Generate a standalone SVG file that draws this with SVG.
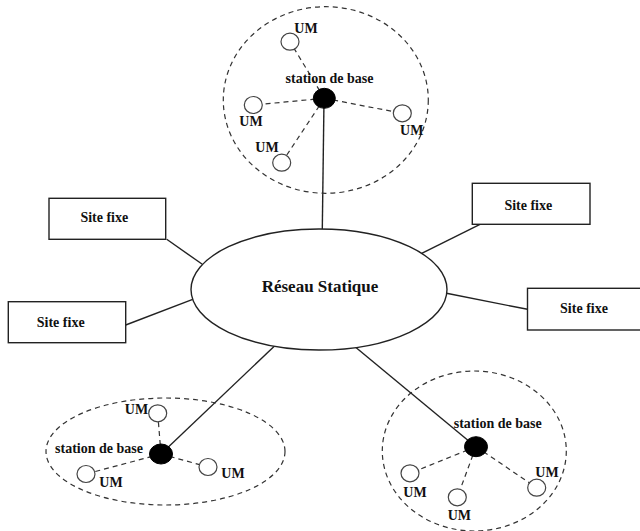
<svg xmlns="http://www.w3.org/2000/svg" width="640" height="531" viewBox="0 0 640 531">
<style>
text{font-family:"Liberation Serif","Times New Roman",serif;font-weight:bold;fill:#111;text-anchor:middle}
.lbl{font-size:14px}
.big{font-size:17px}
.cell{fill:none;stroke:#333;stroke-width:1.2;stroke-dasharray:5,4}
.dash{fill:none;stroke:#333;stroke-width:1.2;stroke-dasharray:5,4}
.link{fill:none;stroke:#222;stroke-width:1.4}
.box{fill:#fff;stroke:#222;stroke-width:1.4}
.um{fill:#fff;stroke:#444;stroke-width:1.2}
.bs{fill:#000;stroke:#000}
</style>
<rect width="640" height="531" fill="#fff"/>
<g id="connectors">
<line class="link" x1="324" y1="100" x2="322.3" y2="229"/>
<line class="link" x1="166.7" y1="239.3" x2="202.3" y2="264.3"/>
<line class="link" x1="125.7" y1="325" x2="192.7" y2="299.3"/>
<line class="link" x1="480" y1="224.3" x2="421.7" y2="253.3"/>
<line class="link" x1="446.5" y1="293.3" x2="527.5" y2="309.3"/>
<line class="link" x1="161" y1="454" x2="274.3" y2="346.2"/>
<line class="link" x1="476" y1="447" x2="355" y2="346.7"/>
<line class="dash" x1="324.3" y1="98.3" x2="290" y2="41.7"/>
<line class="dash" x1="324.3" y1="98.3" x2="253.3" y2="105"/>
<line class="dash" x1="324.3" y1="98.3" x2="281.7" y2="162.7"/>
<line class="dash" x1="324.3" y1="98.3" x2="402.3" y2="113.3"/>
<line class="dash" x1="161" y1="454" x2="157.7" y2="413.3"/>
<line class="dash" x1="161" y1="454" x2="86" y2="474"/>
<line class="dash" x1="161" y1="454" x2="208" y2="467"/>
<line class="dash" x1="476" y1="446.7" x2="410" y2="473.3"/>
<line class="dash" x1="476" y1="446.7" x2="457.3" y2="497.3"/>
<line class="dash" x1="476" y1="446.7" x2="536.7" y2="487.7"/>
</g>
<g id="cell-top">
<ellipse class="cell" cx="325.8" cy="100" rx="102.5" ry="93.3"/>
</g>
<g id="cell-bottom-left">
<ellipse class="cell" cx="165.5" cy="451.5" rx="119.5" ry="53.5"/>
</g>
<g id="cell-bottom-right">
<ellipse class="cell" cx="474.3" cy="451" rx="92" ry="80"/>
</g>
<g id="reseau-statique">
<ellipse fill="#fff" stroke="#222" stroke-width="1.4" cx="319" cy="289.5" rx="128" ry="60.5"/>
<text class="big" x="320" y="292">Réseau Statique</text>
</g>
<g id="site-fixe-1">
<rect class="box" x="49" y="198.3" width="116.7" height="41"/>
<text class="lbl" x="104.3" y="222.3">Site fixe</text>
</g>
<g id="site-fixe-2">
<rect class="box" x="8.3" y="301.7" width="117.4" height="41"/>
<text class="lbl" x="60.7" y="326.7">Site fixe</text>
</g>
<g id="site-fixe-3">
<rect class="box" x="472.3" y="183.3" width="117.7" height="41"/>
<text class="lbl" x="528.3" y="210">Site fixe</text>
</g>
<g id="site-fixe-4">
<rect class="box" x="527.5" y="288.3" width="114" height="41.7"/>
<text class="lbl" x="584" y="312.7">Site fixe</text>
</g>
<g id="station-top">
<ellipse class="bs" cx="324.3" cy="98.3" rx="11" ry="10"/>
<text class="lbl" x="329.5" y="83.3">station de base</text>
</g>
<g id="um-top-1"><ellipse class="um" cx="290" cy="41.7" rx="9" ry="8.5"/><text class="lbl" x="306" y="33.3">UM</text></g>
<g id="um-top-2"><ellipse class="um" cx="253.3" cy="105" rx="9" ry="8.5"/><text class="lbl" x="251" y="126">UM</text></g>
<g id="um-top-3"><ellipse class="um" cx="281.7" cy="162.7" rx="9" ry="8.5"/><text class="lbl" x="267" y="151.7">UM</text></g>
<g id="um-top-4"><ellipse class="um" cx="402.3" cy="113.3" rx="9" ry="8.5"/><text class="lbl" x="411.7" y="135">UM</text></g>
<g id="station-bottom-left">
<ellipse class="bs" cx="161" cy="454" rx="11.5" ry="10"/>
<text class="lbl" x="99" y="452.7">station de base</text>
</g>
<g id="um-bl-1"><ellipse class="um" cx="157.7" cy="413.3" rx="9" ry="8.5"/><text class="lbl" x="136.5" y="414.3">UM</text></g>
<g id="um-bl-2"><ellipse class="um" cx="86" cy="474" rx="9" ry="8.5"/><text class="lbl" x="111" y="487.3">UM</text></g>
<g id="um-bl-3"><ellipse class="um" cx="208" cy="467" rx="9" ry="8.5"/><text class="lbl" x="233" y="478.3">UM</text></g>
<g id="station-bottom-right">
<ellipse class="bs" cx="476" cy="446.7" rx="11.5" ry="10"/>
<text class="lbl" x="497.7" y="428.3">station de base</text>
</g>
<g id="um-br-1"><ellipse class="um" cx="410" cy="473.3" rx="9" ry="8.5"/><text class="lbl" x="415" y="497.3">UM</text></g>
<g id="um-br-2"><ellipse class="um" cx="457.3" cy="497.3" rx="9" ry="8.5"/><text class="lbl" x="459.3" y="520">UM</text></g>
<g id="um-br-3"><ellipse class="um" cx="536.7" cy="487.7" rx="9" ry="8.5"/><text class="lbl" x="547" y="477.3">UM</text></g>
</svg>
